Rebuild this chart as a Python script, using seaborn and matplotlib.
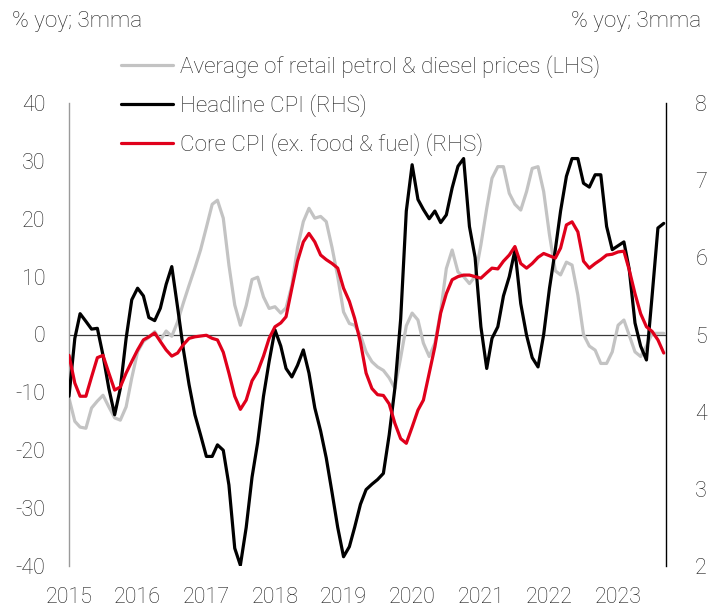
import matplotlib.pyplot as plt
import matplotlib.dates as mdates
import seaborn as sns
import pandas as pd

# monthly, Jan 2015 - Sep 2023, % yoy 3mma
months = pd.date_range("2015-01-01", periods=105, freq="MS")

fuel_prices = [
    -11, -15, -16, -16.2, -12.7, -11.5, -10.5, -12.5, -14.4, -14.8, -12.5, -7.5,
    -3, -1.2, -0.5, 0.5, -1, 0.6, -0.3, 2.2, 5.5, 8.5, 11.5, 14.6,
    18.5, 22.5, 23.2, 20.1, 12, 5.1, 1.6, 5, 9.5, 9.9, 6.5, 4.5,
    4.8, 3.7, 4.6, 8.5, 15, 19.5, 21.8, 20.1, 20.4, 19.5, 15, 10,
    3.9, 1.9, 1.6, -0.1, -3, -4.7, -5.6, -6.2, -7.5, -9.3, -4, 1.5,
    3.7, 2.5, -1.5, -3.8, -1.5, 4, 11.4, 14.6, 10.8, 10, 8.8, 10,
    15.5, 21.8, 27, 29, 29, 24.4, 22.5, 21.5, 24.7, 28.7, 29, 24.7,
    17.2, 11, 10.3, 12.5, 12, 6.8, 0, -2, -2.7, -5, -5, -3,
    1.6, 2.5, -0.1, -3, -3.8, -2, 0.2, 0.2, 0.2,
]

headline_cpi = [
    4.2, 4.95, 5.27, 5.17, 5.07, 5.08, 4.73, 4.3, 3.96, 4.3, 4.95, 5.45,
    5.6, 5.5, 5.22, 5.18, 5.34, 5.65, 5.88, 5.35, 4.8, 4.35, 3.96, 3.7,
    3.42, 3.42, 3.57, 3.5, 3.05, 2.23, 2.01, 2.5, 3.15, 3.6, 4.2, 4.65,
    5.06, 4.85, 4.56, 4.45, 4.6, 4.8, 4.5, 4.05, 3.75, 3.4, 2.95, 2.5,
    2.12, 2.25, 2.5, 2.8, 2.99, 3.06, 3.12, 3.2, 3.7, 4.3, 5.2, 6.6,
    7.2, 6.75, 6.62, 6.5, 6.6, 6.45, 6.55, 6.9, 7.18, 7.28, 6.4, 6.0,
    5.1, 4.56, 4.95, 5.1, 5.5, 5.75, 6.09, 5.4, 4.99, 4.7, 4.58, 5.0,
    5.6, 6.1, 6.6, 7.05, 7.28, 7.28, 6.96, 6.91, 7.07, 7.07, 6.4, 6.1,
    6.15, 6.2, 5.85, 5.15, 4.85, 4.67, 5.5, 6.38, 6.44,
]

core_cpi = [
    4.73, 4.37, 4.2, 4.2, 4.45, 4.7, 4.73, 4.5, 4.28, 4.32, 4.5, 4.65,
    4.8, 4.93, 4.97, 5.02, 4.91, 4.8, 4.72, 4.76, 4.87, 4.95, 4.97, 4.98,
    4.99, 4.95, 4.93, 4.77, 4.5, 4.2, 4.03, 4.15, 4.4, 4.52, 4.72, 4.95,
    5.1, 5.15, 5.23, 5.6, 5.95, 6.2, 6.31, 6.2, 6.03, 5.97, 5.92, 5.86,
    5.6, 5.43, 5.21, 4.9, 4.5, 4.3, 4.22, 4.21, 4.1, 3.85, 3.65, 3.59,
    3.8, 4.02, 4.15, 4.5, 4.84, 5.28, 5.53, 5.71, 5.75, 5.77, 5.77, 5.75,
    5.73, 5.8, 5.86, 5.85, 5.95, 6.03, 6.14, 5.92, 5.86, 5.92, 6.0, 6.05,
    6.02, 5.99, 6.12, 6.42, 6.46, 6.33, 5.95, 5.86, 5.92, 5.97, 6.03, 6.04,
    6.07, 6.08, 5.84, 5.53, 5.27, 5.1, 5.04, 4.93, 4.76,
]

labels = [
    "Average of retail petrol & diesel prices (LHS)",
    "Headline CPI (RHS)",
    "Core CPI (ex. food & fuel) (RHS)",
]

GREY = "#c3c3c3"
RED = "#e0001b"
TXT = "#1e1e1e"

sns.set_theme(style="white")
plt.rcParams["font.family"] = ["Roboto", "DejaVu Sans"]
plt.rcParams["font.weight"] = "light"
plt.rcParams["axes.unicode_minus"] = False

df = pd.DataFrame({"month": months, "fuel": fuel_prices,
                   "headline": headline_cpi, "core": core_cpi})

fig = plt.figure(figsize=(7.18, 6.07), dpi=100)
ax = fig.add_axes([69 / 718, 1 - 566 / 607, (666 - 69) / 718, (566 - 103) / 607])
ax2 = ax.twinx()

sns.lineplot(data=df, x="month", y="fuel", ax=ax, color=GREY, lw=2.3,
             label=labels[0], legend=False)
ax.axhline(0, color="#3a3a3a", lw=0.9, zorder=1)
sns.lineplot(data=df, x="month", y="headline", ax=ax2, color="black", lw=2.3,
             label=labels[1], legend=False)
sns.lineplot(data=df, x="month", y="core", ax=ax2, color=RED, lw=2.3,
             label=labels[2], legend=False)

ax.set_ylim(-40, 40)
ax.set_yticks(range(-40, 41, 10))
ax2.set_ylim(2, 8)
ax2.set_yticks(range(2, 9))
ax.set_xlim(pd.Timestamp("2015-01-01"), pd.Timestamp("2023-09-13"))
ax.xaxis.set_major_locator(mdates.YearLocator())
ax.xaxis.set_major_formatter(mdates.DateFormatter("%Y"))

for a in (ax, ax2):
    a.set_xlabel("")
    a.set_ylabel("")
    a.grid(False)
    for s in a.spines.values():
        s.set_visible(False)
ax.spines["left"].set_visible(True)
ax.spines["left"].set_color("#9a9a9a")
ax.spines["left"].set_linewidth(1)
ax2.spines["right"].set_visible(True)
ax2.spines["right"].set_color("black")
ax2.spines["right"].set_linewidth(1)

ax.tick_params(axis="y", length=0, pad=17, labelsize=15.5, labelcolor=TXT)
ax.tick_params(axis="x", length=0, pad=15, labelsize=15.5, labelcolor=TXT)
ax2.tick_params(axis="y", length=0, pad=21, labelsize=15.5, labelcolor=TXT)

fig.text(12 / 718, 1 - 22 / 607, "% yoy; 3mma", ha="left", va="center",
         fontsize=16.2, color=TXT)
fig.text(701 / 718, 1 - 22 / 607, "% yoy; 3mma", ha="right", va="center",
         fontsize=16.2, color=TXT)

handles = [ax.get_lines()[0], ax2.get_lines()[0], ax2.get_lines()[1]]
fig.legend(handles, labels, loc="upper left",
           bbox_to_anchor=(121 / 718, 1 - 55 / 607), frameon=False,
           fontsize=16.2, handlelength=2.3, handletextpad=0.3,
           labelspacing=0.72, borderpad=0, borderaxespad=0,
           labelcolor=TXT)

fig.savefig("out.png", dpi=100)
